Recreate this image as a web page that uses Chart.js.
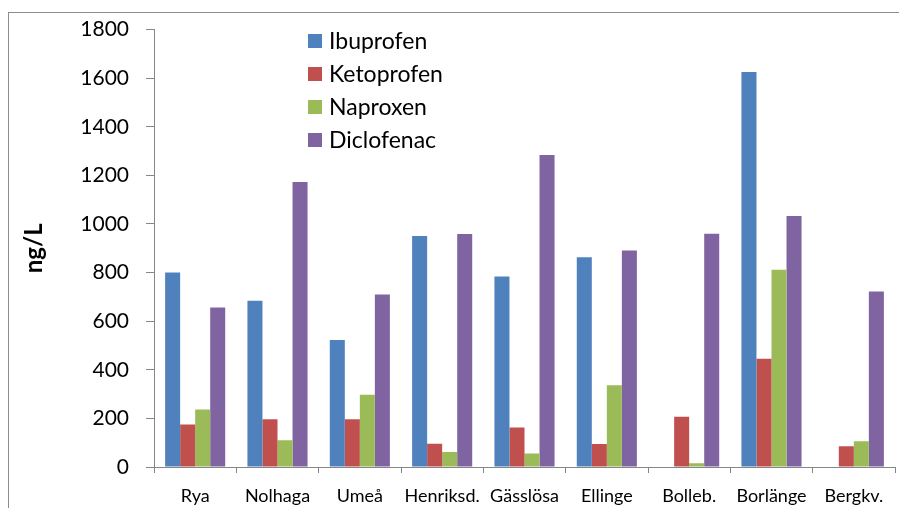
<!DOCTYPE html>
<html>
<head>
<meta charset="utf-8">
<script src="https://cdn.jsdelivr.net/npm/chart.js@4.4.1/dist/chart.umd.min.js"></script>
<style>
  html, body { margin: 0; padding: 0; background: #fff; overflow: hidden; }
  #wrap { position: relative; width: 899px; height: 508px; }
  #frame { position: absolute; left: 8px; top: 12px; width: 1000px; height: 1000px;
           border-left: 1px solid #8c8c8c; border-top: 1px solid #8c8c8c; pointer-events: none; }
  canvas { position: absolute; left: 0; top: 0; }
</style>
</head>
<body>
<div id="wrap">
  <canvas id="drugChart" width="899" height="508"></canvas>
  <div id="frame"></div>
</div>
<script>
// sampling sites and measured concentrations (ng/L)
const sites = ["Rya", "Nolhaga", "Umeå", "Henriksd.", "Gässlösa", "Ellinge", "Bolleb.", "Borlänge", "Bergkv."];
const ibuprofen  = [800, 684, 523, 951, 784, 863, 0, 1626, 0];
const ketoprofen = [175, 197, 197, 96, 163, 95, 207, 445, 85];
const naproxen   = [237, 110, 297, 62, 56, 336, 15, 812, 106];
const diclofenac = [656, 1173, 710, 959, 1284, 891, 960, 1033, 722];
const yTicks = [0, 200, 400, 600, 800, 1000, 1200, 1400, 1600, 1800];

const seriesNames = ["Ibuprofen", "Ketoprofen", "Naproxen", "Diclofenac"];
const seriesColors = ["#4F81BD", "#C0504D", "#9BBB59", "#8064A2"];
const seriesData = [ibuprofen, ketoprofen, naproxen, diclofenac];

const axisColor = "#868686";
const fontFamily = "Lato, 'Open Sans', sans-serif";

// legend stacked inside the plot, top-middle
const insideLegend = {
  id: "insideLegend",
  afterDraw(chart) {
    const ctx = chart.ctx;
    ctx.save();
    ctx.font = "23px " + fontFamily;
    ctx.textBaseline = "middle";
    chart.data.datasets.forEach((ds, i) => {
      const y = 41 + i * 33;
      ctx.fillStyle = ds.backgroundColor;
      ctx.fillRect(308, y - 7, 14, 14);
      ctx.fillStyle = "#000";
      ctx.fillText(ds.label, 329, y + 1);
    });
    ctx.restore();
  }
};

new Chart(document.getElementById("drugChart"), {
  type: "bar",
  data: {
    labels: sites,
    datasets: seriesNames.map((name, i) => ({
      label: name,
      data: seriesData[i],
      backgroundColor: seriesColors[i],
      borderWidth: 0,
      barPercentage: 1.0,
      categoryPercentage: 0.73
    }))
  },
  options: {
    responsive: false,
    animation: false,
    layout: { padding: { top: 28, right: 4, left: 0, bottom: 0 } },
    plugins: {
      legend: { display: false },
      tooltip: { enabled: false }
    },
    scales: {
      x: {
        grid: { display: true, drawOnChartArea: false, offset: true, color: axisColor, tickLength: 6, tickWidth: 1 },
        border: { color: axisColor, width: 1 },
        ticks: { color: "#000", padding: 12, font: { family: fontFamily, size: 18 }, maxRotation: 0 },
        afterFit(scale) { scale.height = 41; }
      },
      y: {
        min: 0,
        max: 1800,
        afterBuildTicks(scale) { scale.ticks = yTicks.map(v => ({ value: v })); },
        grid: { display: true, drawOnChartArea: false, color: axisColor, tickLength: 8, tickWidth: 1 },
        border: { color: axisColor, width: 1 },
        ticks: {
          color: "#000",
          padding: 17,
          font: { family: fontFamily, size: 21 },
          callback: v => String(v)
        },
        title: {
          display: true,
          text: "ng/L",
          color: "#000",
          font: { family: fontFamily, size: 24, weight: "bold" },
          padding: { top: 20, bottom: 0 }
        },
        afterFit(scale) { scale.width = 154; }
      }
    }
  },
  plugins: [insideLegend]
});
</script>
</body>
</html>
